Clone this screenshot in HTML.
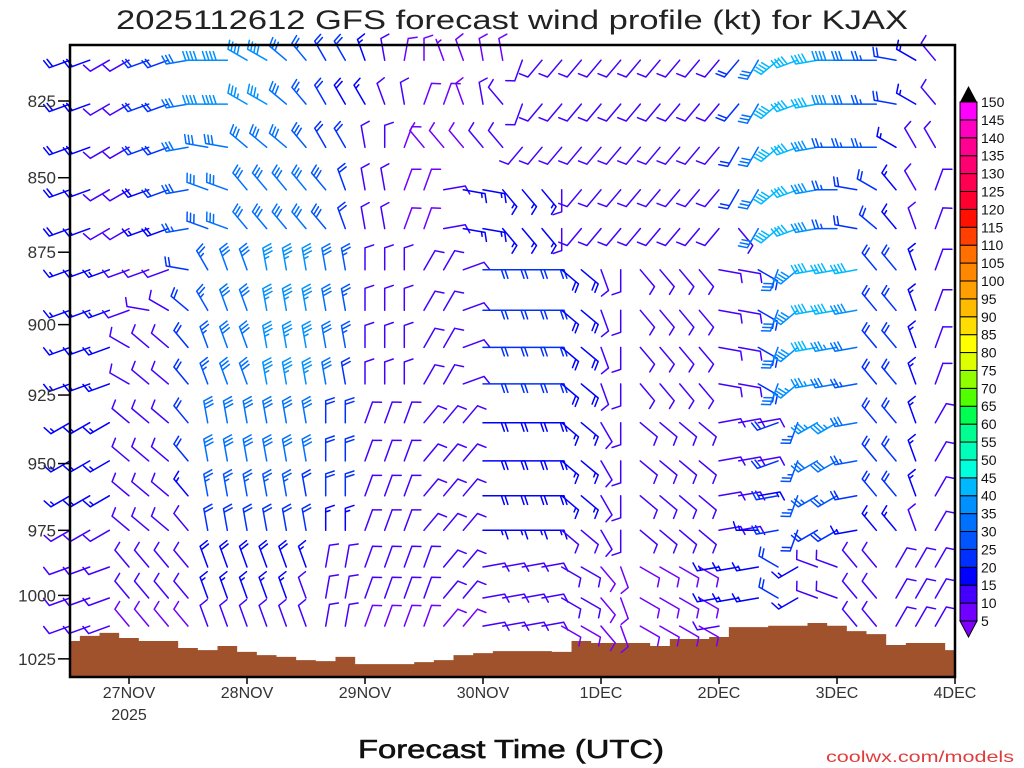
<!DOCTYPE html>
<html><head><meta charset="utf-8"><style>
html,body{margin:0;padding:0;background:#fff;}
svg{display:block;font-family:"Liberation Sans",sans-serif;}
</style></head><body>
<svg id="chart" width="1024" height="768" viewBox="0 0 1024 768">
<text x="512" y="29" text-anchor="middle" font-size="27" textLength="792" lengthAdjust="spacingAndGlyphs" fill="#222">2025112612 GFS forecast wind profile (kt) for KJAX</text>
<g id="terrain"></g>
<g id="barbs"></g>
<rect x="70" y="45" width="885" height="632" fill="none" stroke="#000" stroke-width="2.5"/>
<g id="yaxis"></g>
<g id="xaxis"></g>
<g id="cbar"></g>
<text x="511" y="758" text-anchor="middle" font-size="26" textLength="306" lengthAdjust="spacingAndGlyphs" fill="#111" stroke="#111" stroke-width="0.6">Forecast Time (UTC)</text>
<text x="1014" y="762" text-anchor="end" font-size="16" textLength="188" lengthAdjust="spacingAndGlyphs" fill="#e03c3c">coolwx.com/models</text>
</svg>
<script>
const NS="http://www.w3.org/2000/svg";
// ---- data ----
const levels=[812,826,840,854,867,881,895,908,921,935,949,962,975,989,1001,1012];
const yTicks=[825,850,875,900,925,950,975,1000,1025];
const dayLabels=["27NOV","28NOV","29NOV","30NOV","1DEC","2DEC","3DEC","4DEC"];
const dayIndex=[3,9,15,21,27,33,39,45];
const surfaceP=[1017.9,1015.9,1014.7,1016.7,1017.9,1017.9,1020.7,1021.5,1019.9,1022.2,1023.5,1024.2,1025.5,1025.9,1024.2,1027.1,1027.1,1027.1,1026.3,1025.5,1023.5,1022.7,1021.9,1021.9,1021.9,1022.2,1017.9,1018.7,1018.7,1018.7,1019.9,1017.1,1017.1,1016.3,1012.4,1012.4,1011.9,1011.9,1010.8,1011.9,1014.0,1015.2,1019.5,1018.7,1018.7,1021.5];
const cbLabels=[5,10,15,20,25,30,35,40,45,50,55,60,65,70,75,80,85,90,95,100,105,110,115,120,125,130,135,140,145,150];
const cbColors=["#7000ff","#4400ff","#0000ff","#0030ff","#0055ff","#0070ff","#0090ff","#00b8ff","#00ffdd","#00ffbb","#00ff90","#00ff50","#50ff00","#90ff00","#ddff00","#ffff00","#ffdd00","#ffbb00","#ffa000","#ff8800","#ff7000","#ff4000","#ff1000","#ff0030","#ff0050","#ff0070","#ff0090","#ff00c0","#ff00ff"];
// wind rows: "dir(tens of deg)/speed(kt)" per 4-hourly column, one string per level
const row0="25/18 25/18 24/12 24/12 25/22 25/22 26/30 27/38 27/38 30/38 30/38 31/30 32/25 33/20 33/20 34/15 35/12 01/8 00/8 34/6 34/8 35/8 35/8 20/10 22/12 22/12 22/12 22/12 22/12 22/12 22/12 22/12 22/12 22/12 22/20 21/30 23/40 25/42 26/42 27/38 27/30 27/25 28/20 30/15 32/12 33/12";
const row1="25/18 25/18 24/12 24/12 25/22 25/22 26/30 27/38 27/38 30/36 30/36 31/30 32/25 33/20 33/18 33/15 34/12 35/10 02/8 02/8 34/8 35/10 32/10 20/10 22/12 22/12 22/12 22/12 22/12 22/12 22/12 22/12 22/12 22/12 22/20 21/32 23/40 25/42 26/40 27/38 27/30 27/25 28/20 30/15 32/12 33/12";
const row2="25/18 25/18 24/12 24/12 25/20 25/22 26/30 28/32 28/32 31/32 31/32 31/30 32/28 33/22 33/20 35/12 00/10 02/8 32/8 32/8 32/8 32/12 32/12 22/10 22/10 22/10 22/10 22/10 22/10 22/10 22/10 22/10 22/10 22/10 21/20 21/32 23/40 25/40 26/38 27/25 27/25 27/25 30/15 33/12 33/12 33/12";
const row3="25/18 25/15 24/12 24/12 25/18 25/20 26/28 29/30 29/30 32/30 32/30 32/30 32/30 32/28 34/20 35/12 35/12 02/8 02/8 08/10 10/15 10/15 14/15 14/15 14/15 18/12 22/10 22/10 22/10 22/10 22/10 22/10 22/10 22/10 21/20 21/32 23/40 25/40 26/38 27/25 28/22 30/20 32/15 33/12 02/10 02/10";
const row4="25/18 25/15 24/12 24/12 25/15 25/18 26/25 29/28 29/30 32/30 32/30 32/30 32/30 32/28 34/20 35/12 35/12 02/8 02/8 08/10 10/15 10/15 14/15 14/15 14/15 18/12 22/10 22/10 22/10 22/10 22/10 22/10 22/10 22/10 14/12 21/30 23/40 25/40 26/38 27/25 28/22 31/22 32/15 34/12 02/10 02/10";
const row5="25/15 25/15 25/15 25/12 25/12 25/12 28/20 33/25 34/30 34/32 35/35 35/35 35/35 35/30 35/25 00/12 00/12 00/12 03/10 03/10 07/10 09/20 09/20 09/20 09/20 13/18 13/18 16/12 18/12 14/10 14/10 14/10 14/10 10/10 10/10 12/20 20/30 23/38 26/40 26/40 26/40 32/22 32/22 34/15 02/10 02/10";
const row6="25/15 25/15 25/15 25/12 28/12 30/12 31/20 33/25 34/30 34/32 35/35 35/35 35/35 35/30 35/25 00/12 00/12 00/12 03/10 03/10 07/10 09/20 09/20 09/20 09/20 13/18 13/18 16/12 18/12 14/10 14/10 14/10 14/10 10/10 10/10 12/20 20/30 23/38 26/40 26/40 26/38 32/22 32/22 34/15 02/10 02/10";
const row7="25/15 25/15 25/15 30/10 31/10 31/12 32/20 34/25 34/30 34/32 35/35 35/35 35/35 35/30 35/25 00/12 00/12 00/12 03/10 03/10 07/10 09/20 09/20 09/20 09/20 13/18 13/18 16/12 18/12 14/10 14/10 14/10 14/10 10/10 10/10 12/20 20/30 23/38 26/40 26/35 26/30 32/22 32/22 34/15 02/10 02/10";
const row8="25/15 25/15 25/15 30/10 31/10 31/12 32/20 34/25 34/30 34/32 35/35 35/35 35/35 35/30 35/20 00/12 00/12 00/12 03/10 03/10 07/10 09/20 09/20 09/20 09/20 13/18 13/18 16/12 18/12 14/10 14/10 14/10 14/10 10/10 10/10 12/20 20/30 23/35 26/35 26/30 26/25 32/22 32/22 34/15 02/10 02/10";
const row9="24/15 24/15 24/15 31/10 31/10 31/10 32/20 35/30 35/30 35/30 35/30 35/30 35/30 00/20 00/20 02/12 02/12 02/12 04/12 04/12 04/12 09/18 09/18 09/18 09/18 13/15 13/15 15/10 18/10 13/10 13/10 13/10 13/10 08/12 08/12 08/12 25/20 20/25 24/35 24/35 26/30 32/20 32/20 34/15 03/10 03/10";
const row10="24/15 24/15 24/15 31/10 31/10 31/10 32/20 35/30 35/30 35/30 35/30 35/30 35/30 00/20 00/20 02/12 02/12 02/12 04/12 04/12 04/12 09/18 09/18 09/18 09/18 13/15 13/15 15/10 18/10 13/10 13/10 13/10 13/10 08/12 08/12 08/12 25/20 20/25 24/30 24/30 26/25 32/20 32/20 34/15 03/10 03/10";
const row11="24/15 24/15 24/15 31/10 31/10 31/10 32/15 35/25 35/25 35/25 35/25 35/25 35/22 00/20 00/20 02/12 02/12 02/12 04/12 04/12 04/12 09/18 09/18 09/18 09/18 13/15 13/15 15/10 18/10 13/10 13/10 13/10 13/10 08/12 08/12 08/15 26/20 20/25 24/25 24/25 26/20 32/20 32/20 34/15 03/10 03/10";
const row12="24/12 24/12 24/12 31/10 31/10 31/10 32/12 35/20 35/20 35/22 35/22 35/22 35/20 00/15 00/15 02/12 02/12 02/12 04/12 04/12 04/12 09/15 09/15 09/15 09/15 13/12 13/12 15/10 18/10 13/10 13/10 13/10 13/10 08/12 08/12 27/15 26/20 20/22 24/20 24/20 26/15 32/15 32/15 34/12 03/10 03/10";
const row13="25/12 25/12 25/12 32/10 32/10 32/10 32/10 34/18 34/18 34/18 34/18 34/18 34/15 01/12 01/12 02/10 02/10 02/10 02/10 04/10 04/10 08/12 08/12 08/12 08/12 12/10 12/10 14/8 16/8 12/8 12/8 12/8 12/8 26/15 26/15 26/15 30/20 24/15 29/12 29/12 32/10 32/10 03/10 03/10 03/10 03/10";
const row14="25/12 25/12 25/12 32/10 32/10 32/10 32/10 34/15 34/15 34/15 34/15 34/15 34/12 01/12 01/12 02/10 02/10 02/10 02/10 04/10 04/10 08/12 08/12 08/12 08/12 12/10 12/10 14/8 16/8 12/8 12/8 12/8 12/8 26/15 26/15 26/15 30/20 24/15 29/12 29/12 32/10 32/10 03/10 03/10 03/10 03/10";
const row15="25/10 25/10 25/10 32/8 32/8 32/8 32/8 34/10 34/10 34/10 34/10 34/10 34/10 01/10 01/10 02/8 02/8 02/8 02/8 04/8 04/8 08/10 08/10 08/10 08/10 12/8 12/8 14/8 16/8 12/8 12/8 12/8 12/8 26/12 26/12 26/12 30/15 24/12 29/10 29/10 32/10 32/10 03/10 03/10 03/10 03/10";
const windRows=[row0,row1,row2,row3,row4,row5,row6,row7,row8,row9,row10,row11,row12,row13,row14,row15];

// ---- axes ----
const X0=70,DX=19.667,P0=825,YP0=101,K=2570;
const xOf=i=>X0+i*DX;
const yOf=p=>YP0+K*Math.log(p/P0);
function mk(tag,attrs,parent){const e=document.createElementNS(NS,tag);for(const k in attrs)e.setAttribute(k,attrs[k]);parent.appendChild(e);return e;}
function spdColor(s){if(s<5)return "#8a2be2";const i=Math.min(cbColors.length-1,Math.floor((s-5)/5));return cbColors[i];}

// terrain
const terr=document.getElementById('terrain');
let d="M"+X0+" 677";
surfaceP.forEach((p,i)=>{const xa=Math.max(X0,xOf(i)-DX/2),xb=Math.min(955,xOf(i)+DX/2);const y=yOf(p);d+=" L"+xa+" "+y+" L"+xb+" "+y;});
d+=" L955 677 Z";
const tp=mk('path',{d:d,fill:"#a0522d"},terr);



// barbs
const bg=document.getElementById('barbs');
const L=22,FL=9,SP=3.6;
windRows.forEach((row,r)=>{
  const toks=row.trim().split(/\s+/);
  toks.forEach((t,c)=>{
    const [dd,ss]=t.split('/').map(Number);
    if(levels[r]>=surfaceP[c]-1)return;
    const x=xOf(c),y=yOf(levels[r]);
    if(x>953)return;
    const a=dd*10*Math.PI/180;
    const ux=Math.sin(a),uy=-Math.cos(a);
    const px=-uy,py=ux;
    const tx=x+L*ux,ty=y+L*uy;
    let path="M"+x.toFixed(1)+" "+y.toFixed(1)+" L"+tx.toFixed(1)+" "+ty.toFixed(1);
    let s=Math.round(ss/5)*5;
    let full=Math.floor(s/10),half=(s%10)>=5?1:0;
    let k=0;
    for(let f=0;f<full;f++){const bx=tx-k*SP*ux,by=ty-k*SP*uy;path+=" M"+bx.toFixed(1)+" "+by.toFixed(1)+" L"+(bx+FL*(px*0.95+ux*0.32)).toFixed(1)+" "+(by+FL*(py*0.95+uy*0.32)).toFixed(1);k++;}
    if(half){if(k===0)k=1;const bx=tx-k*SP*ux,by=ty-k*SP*uy;path+=" M"+bx.toFixed(1)+" "+by.toFixed(1)+" L"+(bx+FL*0.5*(px*0.95+ux*0.32)).toFixed(1)+" "+(by+FL*0.5*(py*0.95+uy*0.32)).toFixed(1);}
    const e=mk('path',{d:path,stroke:spdColor(ss),"stroke-width":1.5,fill:"none","stroke-linecap":"round"},bg);
    
    
  });
});

// y axis
const ya=document.getElementById('yaxis');
yTicks.forEach(p=>{const y=yOf(p);
  const tl=mk('line',{x1:58,x2:70,y1:y,y2:y,stroke:"#000","stroke-width":1.5},ya);
  
  
  const tx=mk('text',{x:56,y:y+6,"text-anchor":"end","font-size":17,fill:"#333"},ya);tx.textContent=p;
  
  
});
// x axis
const xa=document.getElementById('xaxis');
dayIndex.forEach((ci,i)=>{const x=xOf(ci);
  const tl=mk('line',{x1:x,x2:x,y1:677,y2:684,stroke:"#000","stroke-width":1.5},xa);
  
  
  const tx=mk('text',{x:x,y:698,"text-anchor":"middle","font-size":16,fill:"#333"},xa);tx.textContent=dayLabels[i];
  
  
});
const yr=mk('text',{x:xOf(3),y:720,"text-anchor":"middle","font-size":16,fill:"#333"},xa);yr.textContent="2025";



// colorbar
const cb=document.getElementById('cbar');
const CBX=960,CBW=17,CTOP=102,CBOT=621,bh=(CBOT-CTOP)/cbColors.length;
cbColors.forEach((c,i)=>{const y=CBOT-(i+1)*bh;
  const r=mk('rect',{x:CBX,y:y,width:CBW,height:bh,fill:c,stroke:"#000","stroke-width":1},cb);
  
  
});
const tu=mk('path',{d:`M${CBX} ${CTOP} L${CBX+CBW/2} ${CTOP-16} L${CBX+CBW} ${CTOP} Z`,fill:"#000"},cb);


const td=mk('path',{d:`M${CBX} ${CBOT} L${CBX+CBW/2} ${CBOT+16} L${CBX+CBW} ${CBOT} Z`,fill:"#8000ff",stroke:"#000","stroke-width":1},cb);


cbLabels.forEach((v,i)=>{const y=CBOT-i*bh;
  const t=mk('text',{x:981,y:y+5,"font-size":14,fill:"#111"},cb);t.textContent=v;
  
  
});
</script>
</body></html>
